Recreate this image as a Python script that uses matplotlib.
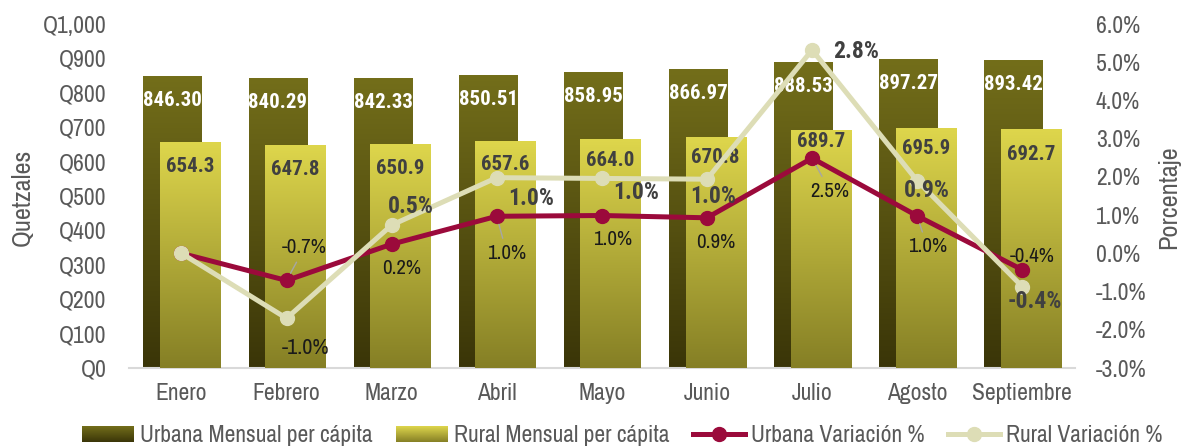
import matplotlib
matplotlib.use("Agg")
import matplotlib.pyplot as plt
import numpy as np
from matplotlib.colors import to_rgb
from matplotlib.legend_handler import HandlerBase
from matplotlib.lines import Line2D
from matplotlib.patches import Patch, Rectangle
from matplotlib.ticker import FuncFormatter, MultipleLocator

# Data
months = ["Enero", "Febrero", "Marzo", "Abril", "Mayo", "Junio",
          "Julio", "Agosto", "Septiembre"]
urbana_mensual = [846.30, 840.29, 842.33, 850.51, 858.95, 866.97, 888.53, 897.27, 893.42]
rural_mensual = [654.3, 647.8, 650.9, 657.6, 664.0, 670.8, 689.7, 695.9, 692.7]
urbana_var = [0.00, -0.71, 0.24, 0.97, 0.99, 0.93, 2.49, 0.98, -0.43]
# the rural line is drawn at these heights, its labels show other values
rural_var_plot = [0.00, -1.70, 0.74, 1.98, 1.96, 1.94, 5.32, 1.90, -0.87]
rural_var_lbl = [None, -1.0, 0.5, 1.0, 1.0, 1.0, 2.8, 0.9, -0.4]

# Label placement (offset in pixels from the marker)
urbana_lbl_off = [None, (18, 33), (10, -24), (10, -37), (11, -24), (9, -25),
                  (18, -33), (10, -31), (10, 13)]
rural_lbl_off = [None, (19, -30), (19, 19), (34, -21), (34, -14), (6, -17),
                 (44, -2), (10, -10), (13, -15)]
urbana_leader = [False, True, False, True, False, False, True, True, False]
rural_bar_lbl_off = [-24, -24, -24, -23, -21, -20, -11, -20, -25]

plt.rcParams["font.family"] = ["Archivo Narrow", "Liberation Sans", "DejaVu Sans"]
BOLD_FONT = ["Roboto Condensed", "Asap Condensed", "Liberation Sans"]

GRAY = "#595959"
RED = "#9B0A3B"
KHAKI = "#DDDDB6"
URB_GRAD = ("#3A3508", "#736E1A")  # bottom, top
RUR_GRAD = ("#857F25", "#DED64C")


def gradient_bars(ax, bars, bottom_color, top_color, zorder):
    """Replace flat bar fills with a vertical gradient image."""
    c0 = np.array(to_rgb(bottom_color))
    c1 = np.array(to_rgb(top_color))
    t = np.linspace(0, 1, 256)[:, None, None]
    img = c0 + (c1 - c0) * t
    for bar in bars:
        x0, y0 = bar.get_xy()
        w, h = bar.get_width(), bar.get_height()
        ax.imshow(img, extent=(x0, x0 + w, y0, y0 + h), origin="lower",
                  aspect="auto", interpolation="bilinear", zorder=zorder)
        bar.set_visible(False)


class GradientHandler(HandlerBase):
    """Legend key drawn as stacked strips going from bottom to top colour."""

    def __init__(self, bottom_color, top_color, n=16):
        super().__init__()
        self.c0 = np.array(to_rgb(bottom_color))
        self.c1 = np.array(to_rgb(top_color))
        self.n = n

    def create_artists(self, legend, orig_handle, xdescent, ydescent,
                       width, height, fontsize, trans):
        strips = []
        for k in range(self.n):
            col = self.c0 + (self.c1 - self.c0) * (k + 0.5) / self.n
            strips.append(Rectangle((-xdescent, -ydescent + height * k / self.n),
                                    width, height / self.n * 1.05,
                                    facecolor=col, edgecolor="none",
                                    transform=trans))
        return strips


fig = plt.figure(figsize=(11.87, 4.47), dpi=100)
ax = fig.add_axes([0.1086, 0.1767, 0.7969, 0.7696])
ax2 = ax.twinx()

x = np.arange(len(months))

# Bars
b_urb = ax.bar(x - 0.083, urbana_mensual, width=0.558, color="#5A5513")
b_rur = ax.bar(x + 0.082, rural_mensual, width=0.571, color="#C8C03C")
gradient_bars(ax, b_urb, *URB_GRAD, zorder=2)
gradient_bars(ax, b_rur, *RUR_GRAD, zorder=3)

for xi, v in zip(x, urbana_mensual):
    ax.annotate(f"{v:.2f}", (xi - 0.083, v), xytext=(0, -24),
                textcoords="offset pixels", ha="center", va="center",
                fontsize=15, fontweight="bold", family=BOLD_FONT,
                color="white", zorder=5)
for xi, v, dy in zip(x, rural_mensual, rural_bar_lbl_off):
    ax.annotate(f"{v:.1f}", (xi + 0.082, v), xytext=(0, dy),
                textcoords="offset pixels", ha="center", va="center",
                fontsize=15, fontweight="bold", family=BOLD_FONT,
                color="#404040", zorder=5)

ax.set_xlim(-0.5, len(months) - 0.5)
ax.set_ylim(0, 1000)
ax.yaxis.set_major_locator(MultipleLocator(100))
ax.yaxis.set_major_formatter(FuncFormatter(lambda v, _: f"Q{v:,.0f}"))
ax.set_xticks(x)
ax.set_xticklabels(months)
ax.tick_params(axis="y", length=0, pad=16, labelsize=17, labelcolor=GRAY)
ax.tick_params(axis="x", length=0, pad=11, labelsize=17, labelcolor=GRAY)
for side in ["top", "left", "right"]:
    ax.spines[side].set_visible(False)
ax.spines["bottom"].set_color("#D9D9D9")
ax.spines["bottom"].set_linewidth(1.5)
ax.set_ylabel("Quetzales", fontsize=19, color=GRAY)
ax.yaxis.set_label_coords(-0.101, 0.497)

# Lines
ax2.plot(x, urbana_var, color=RED, lw=3.6, marker="o", ms=10, zorder=3)
ax2.plot(x, rural_var_plot, color=KHAKI, lw=3.6, marker="o", ms=10, zorder=4)
ax2.set_ylim(-3, 6)
ax2.yaxis.set_major_locator(MultipleLocator(1))
ax2.yaxis.set_major_formatter(FuncFormatter(lambda v, _: f"{v:.1f}%"))
ax2.tick_params(axis="y", length=0, pad=15, labelsize=17, labelcolor=GRAY)
for side in ax2.spines:
    ax2.spines[side].set_visible(False)
ax2.set_ylabel("Porcentaje", fontsize=19, color=GRAY)
ax2.yaxis.set_label_coords(1.0865, 0.497)

for i in range(1, len(months)):
    arrow = None
    if urbana_leader[i]:
        arrow = dict(arrowstyle="-", color="#A6A6A6", lw=1, shrinkA=2, shrinkB=6)
    ax2.annotate(f"{urbana_var[i]:.1f}%", (x[i], urbana_var[i]),
                 xytext=urbana_lbl_off[i], textcoords="offset pixels",
                 ha="center", va="center", fontsize=15, color="#1A1A1A",
                 arrowprops=arrow, zorder=6)
    if i == 1:
        style = dict(fontsize=16, color="#1A1A1A")
    else:
        style = dict(fontsize=17, fontweight="bold", family=BOLD_FONT, color="#404040")
    ax2.annotate(f"{rural_var_lbl[i]:.1f}%", (x[i], rural_var_plot[i]),
                 xytext=rural_lbl_off[i], textcoords="offset pixels",
                 ha="center", va="center", zorder=6, **style)

# Legend
urb_key = Patch()
rur_key = Patch()
handles = [
    urb_key,
    rur_key,
    Line2D([], [], color=RED, lw=3.6, marker="o", ms=10),
    Line2D([], [], color=KHAKI, lw=3.6, marker="o", ms=10),
]
labels = ["Urbana Mensual per cápita", "Rural Mensual per cápita",
          "Urbana Variación %", "Rural Variación %"]
fig.legend(handles, labels, loc="center", bbox_to_anchor=(0.524, 0.025), ncol=4,
           frameon=False, fontsize=17, handlelength=2.2, handletextpad=0.25,
           columnspacing=1.0, labelcolor=GRAY,
           handler_map={urb_key: GradientHandler(*URB_GRAD),
                        rur_key: GradientHandler(*RUR_GRAD)})

fig.savefig("out.png", dpi=100)
